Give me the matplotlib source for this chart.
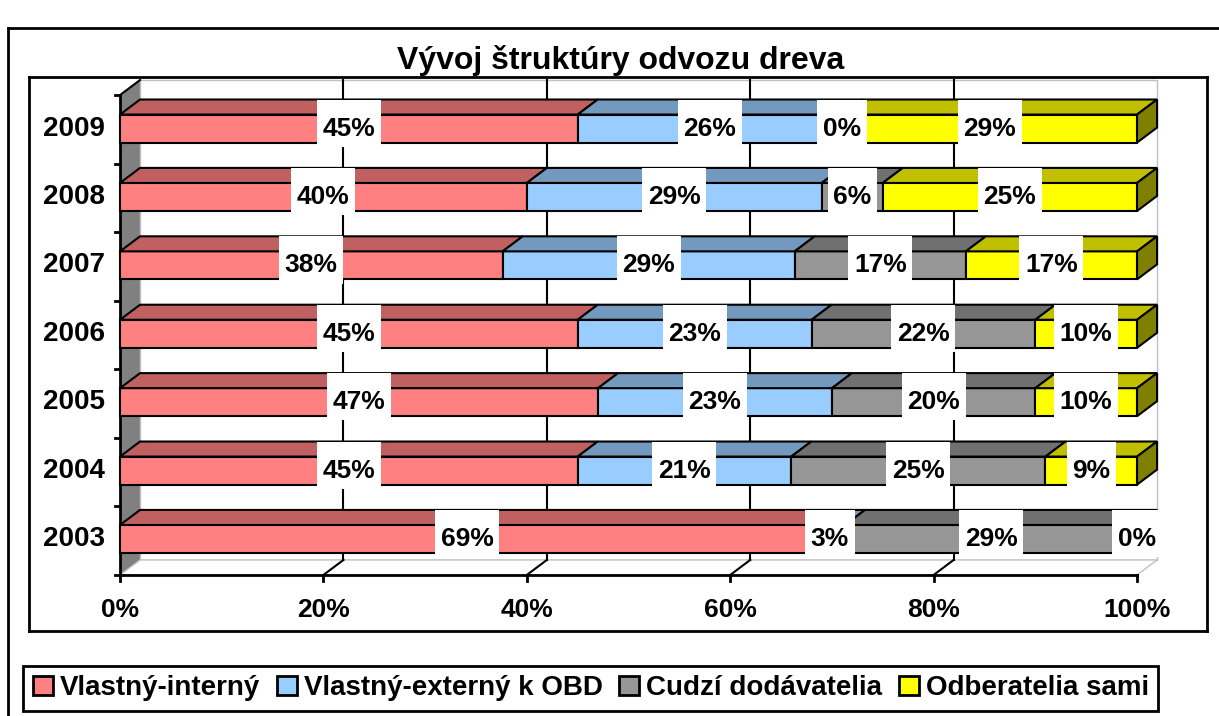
import matplotlib
matplotlib.use("Agg")
import matplotlib.pyplot as plt
from matplotlib.patches import Polygon, Rectangle, Patch
from matplotlib.lines import Line2D


years = ["2003", "2004", "2005", "2006", "2007", "2008", "2009"]
series = ["Vlastný-interný", "Vlastný-externý k OBD", "Cudzí dodávatelia", "Odberatelia sami"]
vlastny_interny = [69, 45, 47, 45, 38, 40, 45]
vlastny_externy = [3, 21, 23, 23, 29, 29, 26]
cudzi_dodavatelia = [29, 25, 20, 22, 17, 6, 0]
odberatelia_sami = [0, 9, 10, 10, 17, 25, 29]
value_ticks = [0, 20, 40, 60, 80, 100]

front_colors = ["#FF8080", "#99CCFF", "#969696", "#FFFF00"]
top_colors = ["#C06060", "#7399BF", "#707070", "#C0C000"]
side_colors = ["#804040", "#4D6680", "#4B4B4B", "#808000"]

# 3D geometry in data units (x = percent, y = category index)
BAR_H = 0.41
DX = 1.97
DY = 0.22
FLOOR = -0.526
TOP = 6.49

plt.rcParams["font.family"] = ["Liberation Sans", "DejaVu Sans"]
plt.rcParams["font.weight"] = "bold"

W, H = 1219, 716
fig = plt.figure(figsize=(W / 100, H / 100), dpi=100)
ax = fig.add_axes([29 / W, 1 - 631 / H, (1207 - 29) / W, (631 - 77) / H])
ax.set_xlim(-8.95, 106.88)
ax.set_ylim(-1.345, 6.754)
ax.set_xticks([])
ax.set_yticks([])
for s in ax.spines.values():
    s.set_linewidth(2)

# walls and floor
ax.add_patch(Polygon([(0, FLOOR), (DX, FLOOR + DY), (DX, TOP + DY), (0, TOP)],
                     fc="#808080", ec="none", zorder=1))
ax.add_patch(Rectangle((DX, FLOOR + DY), 100, TOP - FLOOR, fc="white",
                       ec="#C0C0C0", lw=1, zorder=1))
ax.add_patch(Polygon([(0, FLOOR), (100, FLOOR), (100 + DX, FLOOR + DY), (DX, FLOOR + DY)],
                     fc="white", ec="#C0C0C0", lw=1, zorder=1))
ax.plot([0, DX], [TOP, TOP + DY], color="black", lw=1.5, zorder=2)
for v in value_ticks[1:-1]:
    ax.plot([v + DX, v + DX], [FLOOR + DY, TOP + DY], color="black", lw=1.5, zorder=2)
    ax.plot([v, v + DX], [FLOOR, FLOOR + DY], color="black", lw=1.5, zorder=2)

# axes lines and ticks
ax.plot([0, 0], [FLOOR, TOP], color="black", lw=2, zorder=2)
ax.plot([0, 100], [FLOOR, FLOOR], color="black", lw=2, zorder=2)
for k in range(len(years) + 1):
    yb = FLOOR + k * (TOP - FLOOR) / len(years)
    ax.plot([-0.5, 0], [yb, yb], color="black", lw=2, zorder=2)
for v in value_ticks:
    ax.plot([v, v], [FLOOR, FLOOR - 0.09], color="black", lw=2, zorder=2)
    ax.text(v, -1.04, f"{v}%", ha="center", va="center", fontsize=19)

data = [vlastny_interny, vlastny_externy, cudzi_dodavatelia, odberatelia_sami]
labels = []
for i, year in enumerate(years):
    vals = [d[i] for d in data]
    total = sum(vals)
    pct = [v * 100 / total for v in vals]
    left = 0
    last = max(k for k in range(4) if pct[k] > 0)
    for k, w in enumerate(pct):
        ax.barh(i, w, left=left, height=BAR_H, color=front_colors[k],
                edgecolor="black", linewidth=1.5, zorder=3)
        yt = i + BAR_H / 2
        ax.add_patch(Polygon([(left, yt), (left + w, yt), (left + w + DX, yt + DY),
                              (left + DX, yt + DY)], fc=top_colors[k], ec="black",
                             lw=1.5, zorder=3))
        if k == last:
            ax.add_patch(Polygon([(100, i - BAR_H / 2), (100 + DX, i - BAR_H / 2 + DY),
                                  (100 + DX, yt + DY), (100, yt)], fc=side_colors[k],
                                 ec="black", lw=1.5, zorder=3))
        t = ax.text(left + w / 2, i, f"{vals[k]}%", ha="center", va="center",
                    fontsize=19, zorder=6)
        labels.append((t, left + w / 2, i))
        left += w
    ax.text(-1.45, i, year, ha="right", va="center", fontsize=20)

# white boxes behind data labels
fig.canvas.draw()
renderer = fig.canvas.get_renderer()
inv = ax.transData.inverted()
for t, cx, cy in labels:
    bb = t.get_window_extent(renderer)
    x0 = inv.transform((bb.x0, bb.y0))[0]
    x1 = inv.transform((bb.x1, bb.y0))[0]
    ax.add_patch(Rectangle((x0 - 0.55, cy - BAR_H / 2 - 0.06), x1 - x0 + 1.1,
                           BAR_H + DY + 0.06, fc="white", ec="none", zorder=5))

fig.text(621 / W, 1 - 60 / H, "Vývoj štruktúry odvozu dreva", ha="center",
         va="center", fontsize=23)

handles = [Patch(fc=c, ec="black", lw=2) for c in front_colors]
leg = fig.legend(handles, series, ncol=4, loc="lower left",
                 bbox_to_anchor=(23 / W, 1 - 711 / H), prop={"size": 20, "weight": "bold"},
                 frameon=True, fancybox=False, edgecolor="black", framealpha=1,
                 handlelength=0.72, handleheight=0.72, handletextpad=0.25,
                 columnspacing=0.6, borderpad=0.35, borderaxespad=0)
leg.get_frame().set_linewidth(2)

# chart area border (extends past the image on right and bottom)
fig.add_artist(Line2D([8 / W, 1], [1 - 28 / H, 1 - 28 / H], transform=fig.transFigure,
                      color="black", lw=2))
fig.add_artist(Line2D([8 / W, 8 / W], [0, 1 - 28 / H], transform=fig.transFigure,
                      color="black", lw=2))

fig.savefig("out.png", dpi=100)
